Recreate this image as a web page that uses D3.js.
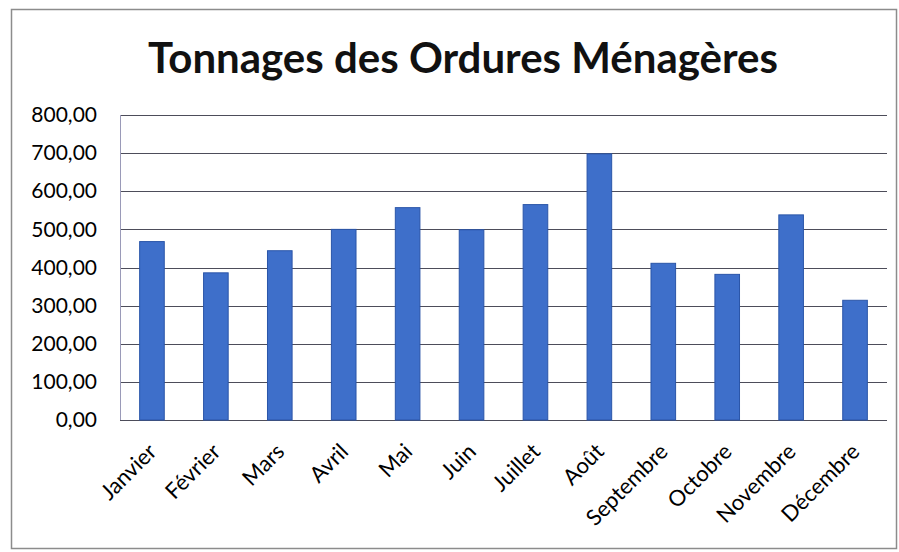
<!DOCTYPE html>
<html>
<head>
<meta charset="utf-8">
<script src="https://cdn.jsdelivr.net/npm/d3@7"></script>
<style>
  body { margin: 0; background: #fff; }
  svg { display: block; }
</style>
</head>
<body>
<div id="chart"></div>
<script>
// month labels and tonnages
var months = ['Janvier', 'Février', 'Mars', 'Avril', 'Mai', 'Juin', 'Juillet', 'Août', 'Septembre', 'Octobre', 'Novembre', 'Décembre'];
var tonnages = [468, 386, 444, 500, 557, 499, 565, 698, 411, 382, 538, 314];
var yTicks = [0, 100, 200, 300, 400, 500, 600, 700, 800];
var title = 'Tonnages des Ordures Ménagères';

var width = 899, height = 552;
var plot = { left: 120, right: 887, top: 115, bottom: 420 };

var svg = d3.select('#chart').append('svg')
  .attr('width', width)
  .attr('height', height);

// outer chart frame
svg.append('rect')
  .attr('x', 11.5).attr('y', 9.5)
  .attr('width', 885).attr('height', 539)
  .attr('fill', '#fff')
  .attr('stroke', '#8c8c8c')
  .attr('stroke-width', 1.5);

svg.append('text')
  .attr('x', 463)
  .attr('y', 73)
  .attr('text-anchor', 'middle')
  .style('font-family', 'Lato, sans-serif')
  .style('font-weight', 'bold')
  .style('font-size', '42px')
  .style('fill', '#111')
  .text(title);

var x = d3.scaleBand()
  .domain(months)
  .range([plot.left, plot.right])
  .paddingInner(0.615)
  .paddingOuter(0.3075);

var y = d3.scaleLinear()
  .domain([0, 800])
  .range([plot.bottom, plot.top]);

var fmt = function(d) { return d3.format('.2f')(d).replace('.', ','); };

// gridlines
svg.append('g')
  .selectAll('line')
  .data(yTicks)
  .join('line')
  .attr('x1', plot.left)
  .attr('x2', plot.right)
  .attr('y1', function(d) { return Math.round(y(d)) + 0.5; })
  .attr('y2', function(d) { return Math.round(y(d)) + 0.5; })
  .attr('stroke', '#4d4d5a')
  .attr('stroke-width', 1);

// plot area left edge
svg.append('line')
  .attr('x1', plot.left + 0.5).attr('x2', plot.left + 0.5)
  .attr('y1', plot.top).attr('y2', plot.bottom)
  .attr('stroke', '#9a9ab8');

// y axis labels
var yAxis = d3.axisLeft(y).tickValues(yTicks).tickFormat(fmt).tickSize(0).tickPadding(23);
var gy = svg.append('g')
  .attr('transform', 'translate(' + plot.left + ',0)')
  .call(yAxis);
gy.select('.domain').remove();
gy.selectAll('text')
  .style('font-family', 'Lato, sans-serif')
  .style('font-size', '21px')
  .style('fill', '#000');

// bars
svg.append('g')
  .selectAll('rect')
  .data(tonnages)
  .join('rect')
  .attr('x', function(d, i) { return x(months[i]); })
  .attr('y', function(d) { return y(d); })
  .attr('width', x.bandwidth())
  .attr('height', function(d) { return y(0) - y(d); })
  .attr('fill', '#3e6fca')
  .attr('stroke', '#2a55a8')
  .attr('stroke-width', 1);

// x axis labels rotated
var xAxis = d3.axisBottom(x).tickSize(0).tickPadding(0);
var gx = svg.append('g')
  .attr('transform', 'translate(0,' + plot.bottom + ')')
  .call(xAxis);
gx.select('.domain').remove();
gx.selectAll('text')
  .attr('y', 0)
  .attr('dy', 0)
  .attr('text-anchor', 'end')
  .attr('transform', 'translate(6,33) rotate(-45)')
  .style('font-family', 'Lato, sans-serif')
  .style('font-size', '22px')
  .style('fill', '#000');
</script>
</body>
</html>
